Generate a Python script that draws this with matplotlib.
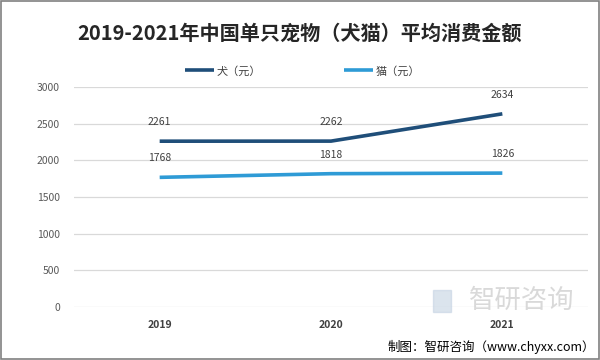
import matplotlib
matplotlib.use('Agg')
import matplotlib.pyplot as plt
from matplotlib.patches import Rectangle

plt.rcParams['font.family'] = ['Noto Sans CJK SC', 'DejaVu Sans']

years = ['2019', '2020', '2021']
dog = [2261, 2262, 2634]
cat = [1768, 1818, 1826]
yticks = [0, 500, 1000, 1500, 2000, 2500, 3000]

dog_color = '#1f4e79'
cat_color = '#2e9bd6'


def main():
    fig = plt.figure(figsize=(6, 3.6), dpi=100)
    ax = fig.add_axes([74 / 600, 1 - 307 / 360, (588 - 74) / 600, 220 / 360])

    x = range(len(years))
    ax.plot(x, dog, color=dog_color, lw=2.6, solid_capstyle='butt', label='犬（元）')
    ax.plot(x, cat, color=cat_color, lw=2.6, solid_capstyle='butt', label='猫（元）')

    for i, v in enumerate(dog):
        ax.annotate(str(v), (i, v), xytext=(0, 10), textcoords='offset points',
                    ha='center', va='bottom', fontsize=7.5, color='#404040')
    for i, v in enumerate(cat):
        ax.annotate(str(v), (i, v), xytext=(0, 10), textcoords='offset points',
                    ha='center', va='bottom', fontsize=7.5, color='#404040')

    ax.set_xlim(-0.5, 2.5)
    ax.set_ylim(0, 3000)
    ax.set_yticks(yticks)
    ax.set_yticklabels([str(t) for t in yticks], fontsize=7.5, color='#595959')
    ax.set_xticks(list(x))
    ax.set_xticklabels(years, fontsize=7.5, fontweight='bold', color='#404040')
    ax.tick_params(axis='both', length=0)
    ax.tick_params(axis='y', pad=10)
    ax.tick_params(axis='x', pad=9)
    ax.grid(axis='y', color='#d9d9d9', lw=0.9)
    ax.set_axisbelow(True)
    for s in ax.spines.values():
        s.set_visible(False)

    fig.text(0.5, 1 - 33 / 360, '2019-2021年中国单只宠物（犬猫）平均消费金额',
             ha='center', va='center', fontsize=14.5, fontweight='bold', color='#262626')

    ax.legend(loc='center', bbox_to_anchor=(0.445, (71 - 307) / -220),
              ncol=2, frameon=False, fontsize=8, handlelength=2.6, handletextpad=0.2,
              columnspacing=7.5, labelcolor='#404040')

    # watermark
    fig.text(522 / 600, 1 - 300 / 360, '智研咨询', ha='center', va='center',
             fontsize=19, color='#d0d0d0', alpha=0.8)
    fig.patches.append(Rectangle((433 / 600, 1 - 312 / 360), 18 / 600, 22 / 360,
                                 transform=fig.transFigure, color='#c4d2e2', alpha=0.6))
    fig.text(595 / 600, 1 - 347 / 360, '制图：智研咨询（www.chyxx.com）',
             ha='right', va='center', fontsize=9, color='#000000')

    fig.patches.append(Rectangle((0.001, 0.002), 0.997, 0.995, transform=fig.transFigure,
                                 fill=False, edgecolor='#808080', lw=1.2))

    fig.savefig('out.png', dpi=100)


if __name__ == "__main__":
    main()
